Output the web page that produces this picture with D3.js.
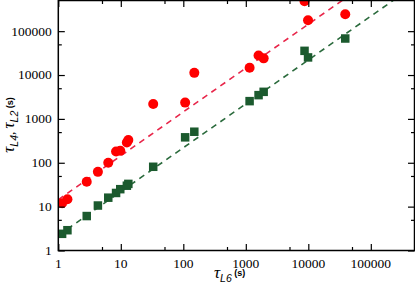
<!DOCTYPE html>
<html>
<head>
<meta charset="utf-8">
<script src="https://cdn.jsdelivr.net/npm/d3@7"></script>
<style>
  body { margin: 0; background: #fff; }
  svg { display: block; }
</style>
</head>
<body>
<div id="chart"></div>
<script>
// tau_L6 (s), shared x values
const tauL6 = [1.15, 1.4, 2.85, 4.3, 6.3, 8.4, 9.8, 12.5, 13.2, 33, 107, 150, 1150, 1600, 1930, 8700, 9900, 39000];
// tau_L4 (red circles)
const tauL4 = [12, 14.7, 37, 62, 100, 180, 188, 290, 330, 2180, 2350, 11200, 14600, 28000, 24000, 480000, 178000, 244000];
// tau_L2 (green squares)
const tauL2 = [2.4, 2.9, 6.1, 10.6, 16, 20.5, 25, 30, 33, 81, 380, 510, 2540, 3480, 4140, 35600, 25200, 68000];
// dashed guide lines y = k * x
const fitL4 = 14.4;
const fitL2 = 2.2;

const majorTicks = [1, 10, 100, 1000, 10000, 100000];
const minorTicks = [5, 50, 500, 5000, 50000];

const width = 415, height = 287;
const margin = { top: 0.5, right: 0.5, bottom: 36.5, left: 58.3 };
const w = width - margin.left - margin.right;
const h = height - margin.top - margin.bottom;

const serif = '"Liberation Serif"';
const sans = '"Liberation Sans"';

const svg = d3.select("#chart").append("svg")
    .attr("width", width)
    .attr("height", height);

const g = svg.append("g")
    .attr("transform", `translate(${margin.left},${margin.top})`);

const x = d3.scaleLog().domain([1, 5e5]).range([0, w]);
const y = d3.scaleLog().domain([1, 5e5]).range([h, 0]);

g.append("clipPath").attr("id", "clip")
    .append("rect").attr("width", w).attr("height", h);

// dashed lines
const lineX = [1, 5e5];
const lineGen = k => d3.line().x(d => x(d)).y(d => y(d * k));
g.append("path")
    .datum(lineX)
    .attr("clip-path", "url(#clip)")
    .attr("d", lineGen(fitL4))
    .attr("fill", "none")
    .attr("stroke", "#e8264a")
    .attr("stroke-width", 1.6)
    .attr("stroke-dasharray", "6,5");
g.append("path")
    .datum(lineX)
    .attr("clip-path", "url(#clip)")
    .attr("d", lineGen(fitL2))
    .attr("fill", "none")
    .attr("stroke", "#2a6a3c")
    .attr("stroke-width", 1.6)
    .attr("stroke-dasharray", "6,5");

// squares
const sq = 8.5;
g.append("g").attr("clip-path", "url(#clip)")
    .selectAll("rect")
    .data(tauL6.map((d, i) => [d, tauL2[i]]))
    .join("rect")
    .attr("x", d => x(d[0]) - sq / 2)
    .attr("y", d => y(d[1]) - sq / 2)
    .attr("width", sq)
    .attr("height", sq)
    .attr("fill", "#1b5a2e");

// circles
g.append("g").attr("clip-path", "url(#clip)")
    .selectAll("circle")
    .data(tauL6.map((d, i) => [d, tauL4[i]]))
    .join("circle")
    .attr("cx", d => x(d[0]))
    .attr("cy", d => y(d[1]))
    .attr("r", 5)
    .attr("fill", "#ff0000");

// frame ticks (inward on all sides)
function ticks(axis, vals, len) {
    return axis.tickValues(vals).tickSize(-len).tickFormat("");
}
const tickStyle = sel => {
    sel.select(".domain").remove();
    sel.selectAll(".tick line").attr("stroke", "#000").attr("stroke-width", 1.2);
};
g.append("g").attr("transform", `translate(0,${h})`)
    .call(ticks(d3.axisBottom(x), majorTicks, 6.5)).call(tickStyle);
g.append("g").attr("transform", `translate(0,${h})`)
    .call(ticks(d3.axisBottom(x), minorTicks, 3.5)).call(tickStyle);
g.append("g").call(ticks(d3.axisTop(x), majorTicks, 6.5)).call(tickStyle);
g.append("g").call(ticks(d3.axisTop(x), minorTicks, 3.5)).call(tickStyle);
g.append("g").call(ticks(d3.axisLeft(y), majorTicks, 6.5)).call(tickStyle);
g.append("g").call(ticks(d3.axisLeft(y), minorTicks, 3.5)).call(tickStyle);
g.append("g").attr("transform", `translate(${w},0)`)
    .call(ticks(d3.axisRight(y), majorTicks, 6.5)).call(tickStyle);
g.append("g").attr("transform", `translate(${w},0)`)
    .call(ticks(d3.axisRight(y), minorTicks, 3.5)).call(tickStyle);

// frame
g.append("rect")
    .attr("width", w).attr("height", h)
    .attr("fill", "none")
    .attr("stroke", "#000")
    .attr("stroke-width", 1.5);

// tick labels
g.append("g").selectAll("text")
    .data(majorTicks)
    .join("text")
    .style("font-family", serif)
    .style("font-size", "13.5px")
    .attr("x", d => x(d))
    .attr("y", h + 17.5)
    .attr("text-anchor", "middle")
    .text(d => d);
g.append("g").selectAll("text")
    .data(majorTicks)
    .join("text")
    .style("font-family", serif)
    .style("font-size", "13.5px")
    .attr("x", -6.5)
    .attr("y", d => y(d))
    .attr("dy", "0.33em")
    .attr("text-anchor", "end")
    .text(d => d);

// axis titles
function title(sel, parts) {
    parts.forEach(p => {
        sel.append("tspan")
            .style("font-family", p.sans ? sans : serif)
            .style("font-style", p.italic ? "italic" : "normal")
            .style("font-weight", p.bold ? "bold" : "normal")
            .style("font-size", p.size + "px")
            .attr("dy", p.dy || 0)
            .text(p.t);
    });
}
const xt = svg.append("text").attr("x", 214).attr("y", 277.5);
title(xt, [
    { t: "τ", italic: true, size: 17 },
    { t: "L6", italic: true, sans: true, size: 10.5, dy: 4.5 },
    { t: " (s)", bold: true, sans: true, size: 9, dy: -6 }
]);

const yt = svg.append("text")
    .attr("transform", "translate(14,125) rotate(-90)")
    .attr("text-anchor", "middle");
title(yt, [
    { t: "τ", italic: true, size: 17 },
    { t: "L4", italic: true, sans: true, size: 10.5, dy: 4 },
    { t: ", ", size: 13, dy: -4 },
    { t: "τ", italic: true, size: 17 },
    { t: "L2", italic: true, sans: true, size: 10.5, dy: 4 },
    { t: " (s)", bold: true, sans: true, size: 9, dy: -5 }
]);
</script>
</body>
</html>
